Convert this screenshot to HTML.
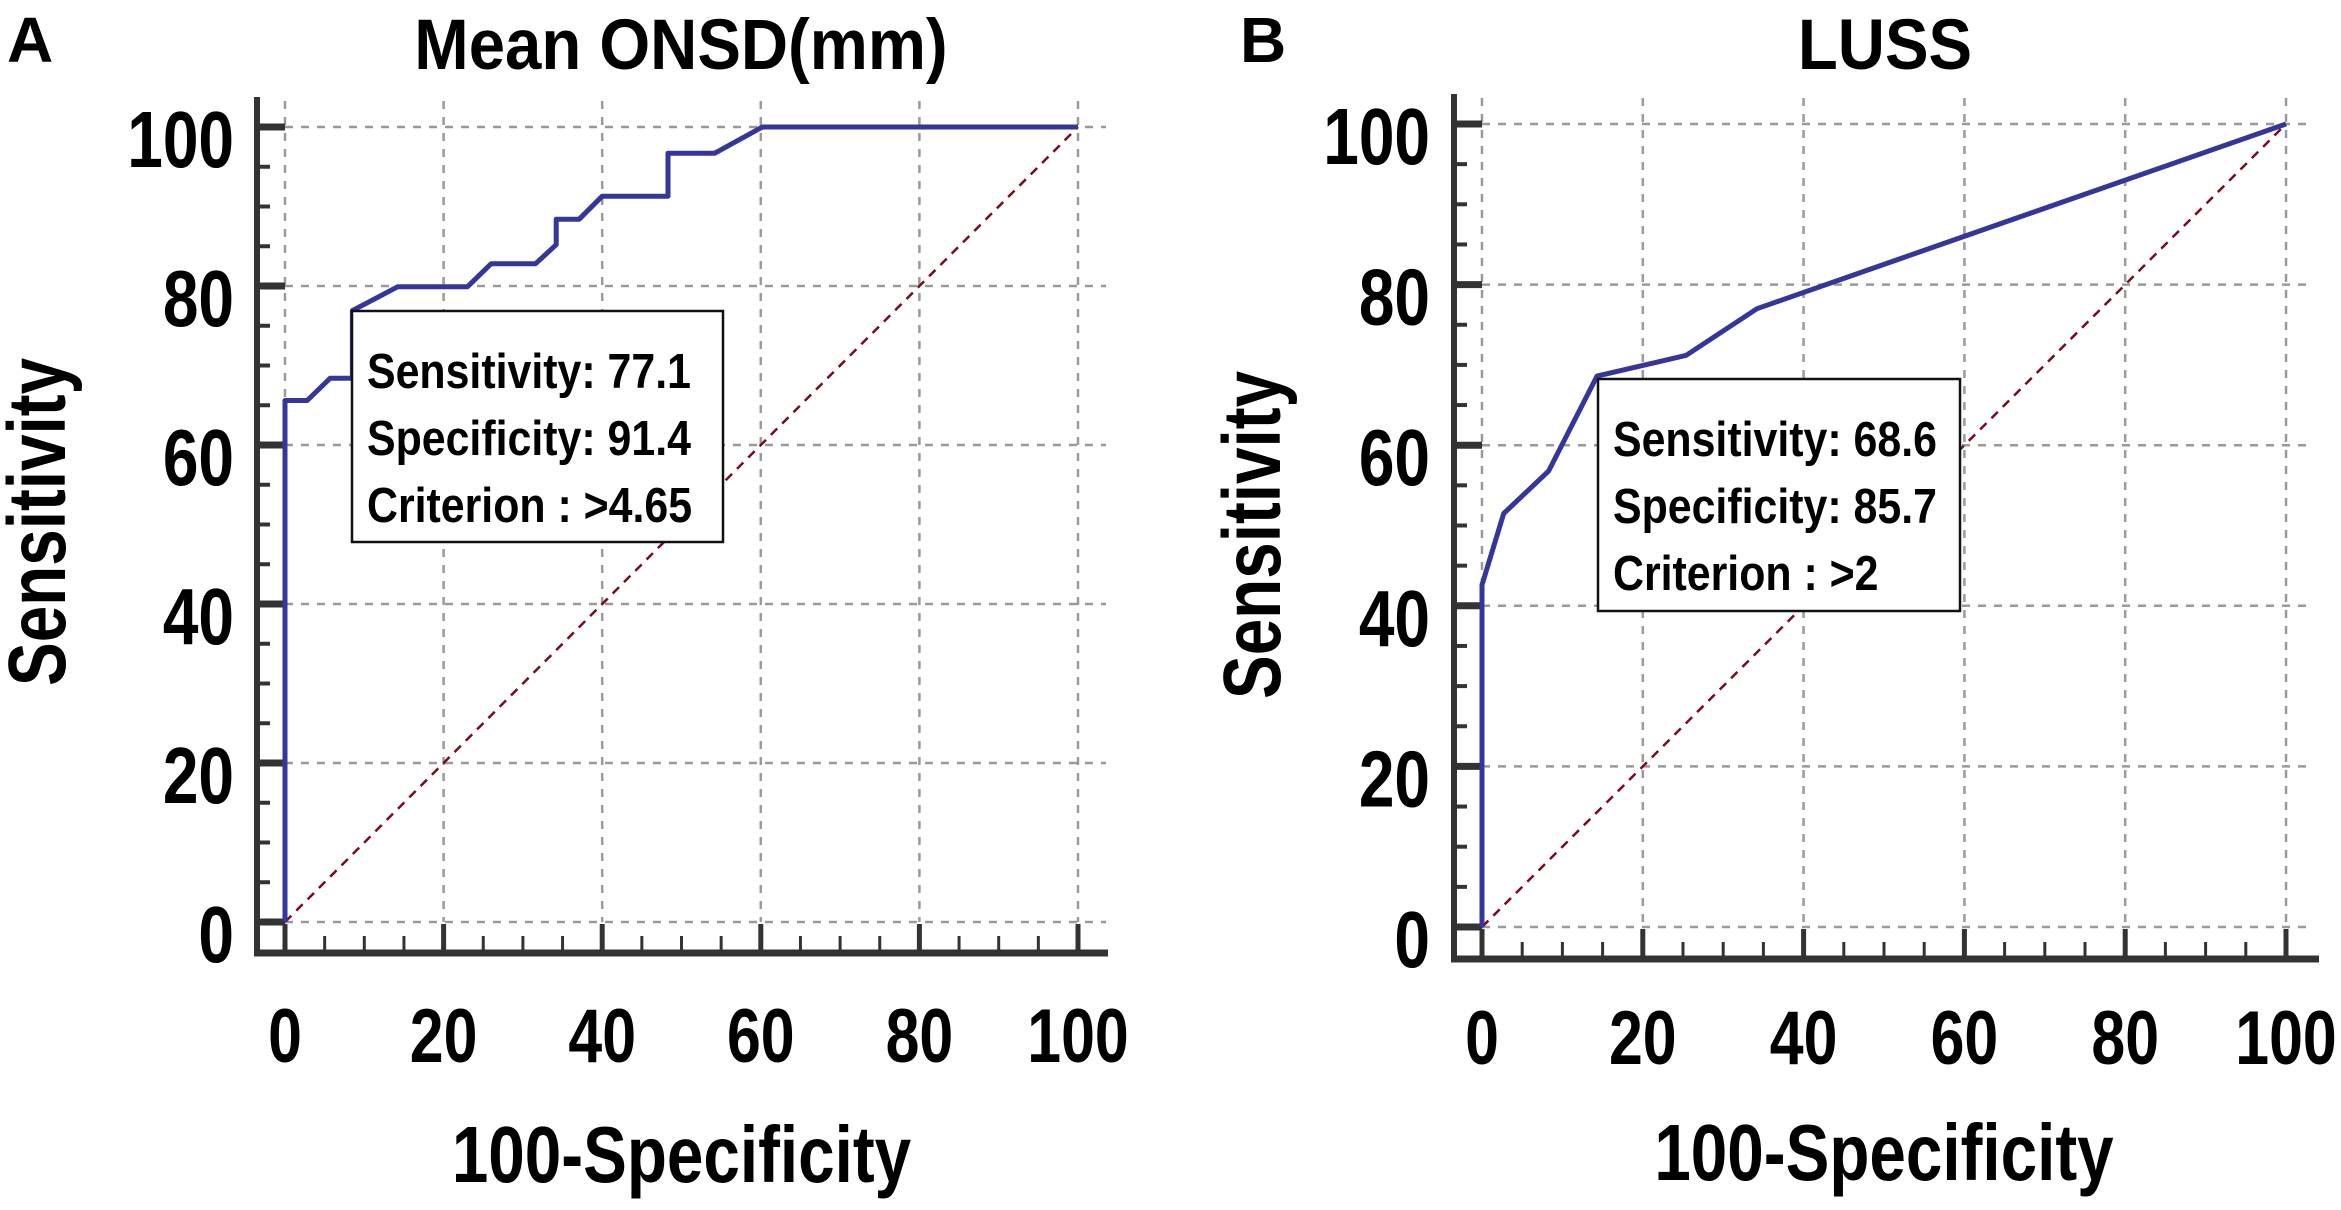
<!DOCTYPE html>
<html><head><meta charset="utf-8"><style>
html,body{margin:0;padding:0;background:#fff;}
svg{display:block;}
text{font-family:"Liberation Sans",sans-serif;font-weight:bold;fill:#000;}
</style></head><body>
<svg id="chart" width="2341" height="1210" viewBox="0 0 2341 1210" xmlns="http://www.w3.org/2000/svg"></svg>
<script>
// Panel A data: Mean ONSD ROC curve (x = 100-Specificity, y = Sensitivity)
const onsdX = [0, 0, 2.8, 5.7, 8.5, 8.5, 14.2, 23, 26, 31.6, 34.2, 34.2, 37.1, 40, 48.3, 48.3, 54.2, 60.2, 100];
const onsdY = [0, 65.6, 65.6, 68.4, 68.4, 76.9, 79.9, 79.9, 82.8, 82.8, 85.2, 88.4, 88.4, 91.3, 91.3, 96.7, 96.7, 100, 100];
// Panel B data: LUSS ROC curve
const lussX = [0, 0, 2.7, 8.3, 14.3, 25.4, 34.2, 100];
const lussY = [0, 42.6, 51.5, 56.8, 68.6, 71.2, 77, 100];
const tickValues = [0, 20, 40, 60, 80, 100];
const tickLabels = ["0", "20", "40", "60", "80", "100"];
const onsdBoxLines = ["Sensitivity: 77.1", "Specificity: 91.4", "Criterion : >4.65"];
const lussBoxLines = ["Sensitivity: 68.6", "Specificity: 85.7", "Criterion : >2"];

const NS = "http://www.w3.org/2000/svg";
const svg = document.getElementById("chart");
function mk(tag, attrs, parent) {
  const e = document.createElementNS(NS, tag);
  for (const k in attrs) e.setAttribute(k, attrs[k]);
  (parent || svg).appendChild(e);
  return e;
}
function txt(parent, x, y, str, size, anchor, sx, rot) {
  const t = mk("text", {transform: "translate(" + x + "," + y + ")" + (rot ? " rotate(" + rot + ")" : "") + " scale(" + sx + ",1)", "font-size": size, "text-anchor": anchor}, parent);
  t.textContent = str;
  return t;
}

function panel(cfg) {
  const g = mk("g", {});
  
  
  const sx = v => cfg.x0 + (cfg.x100 - cfg.x0) * v / 100;
  const sy = v => cfg.y0 + (cfg.y100 - cfg.y0) * v / 100;
  const grid = mk("g", {stroke: "#9a9a9a", "stroke-width": 2.5, "stroke-dasharray": "8 8", fill: "none"}, g);
  
  
  tickValues.forEach(v => {
    const vl = mk("line", {x1: sx(v), x2: sx(v), y1: cfg.axisTop + 4, y2: sy(0)}, grid);
    
    
    const hl = mk("line", {x1: sx(0), x2: sx(100) + 28, y1: sy(v), y2: sy(v)}, grid);
    
    
  });
  const diag = mk("line", {x1: sx(0), y1: sy(0), x2: sx(100), y2: sy(100), stroke: "#7a0a1e", "stroke-width": 2.5, "stroke-dasharray": "9 7"}, g);
  
  
  const ax = mk("g", {stroke: "#333", fill: "none"}, g);
  
  
  const ya = mk("line", {x1: cfg.axisX, x2: cfg.axisX, y1: cfg.axisTop, y2: cfg.axisY + 3, "stroke-width": 6}, ax);
  
  
  const xa = mk("line", {x1: cfg.axisX - 3, x2: cfg.axisRight, y1: cfg.axisY, y2: cfg.axisY, "stroke-width": 7}, ax);
  
  
  for (let v = 0; v <= 100; v += 5) {
    const major = v % 20 === 0;
    const yt = mk("line", {x1: cfg.axisX, x2: major ? sx(0) : cfg.axisX + 13, y1: sy(v), y2: sy(v), "stroke-width": major ? 7 : 4}, ax);
    
    
    const xt = mk("line", {x1: sx(v), x2: sx(v), y1: cfg.axisY, y2: major ? sy(0) + 2 : cfg.axisY - 17, "stroke-width": major ? 5 : 3}, ax);
    
    
  }
  tickValues.forEach((v, i) => {
    const yl = txt(g, cfg.yLabelRight, sy(v) + 40, tickLabels[i], 80, "end", 0.8);
    
    
    const xl = txt(g, sx(v), cfg.xLabelBase, tickLabels[i], 76, "middle", 0.8);
    
    
  });
  const pts = cfg.xs.map((x, i) => sx(x).toFixed(1) + "," + sy(cfg.ys[i]).toFixed(1)).join(" ");
  const curve = mk("polyline", {points: pts, fill: "none", stroke: "#35359a", "stroke-width": 5, "stroke-linejoin": "round"}, g);
  
  
  const bg = mk("g", {}, g);
  
  
  mk("rect", {x: cfg.box[0], y: cfg.box[1], width: cfg.box[2], height: cfg.box[3], fill: "#fff", stroke: "#111", "stroke-width": 2.5}, bg);
  cfg.lines.forEach((s, i) => {
    const t = txt(bg, cfg.box[0] + 15, cfg.box[1] + 77 + i * 67, s, 49, "start", 0.875);
    
    
  });
  const tt = txt(g, cfg.titleX, 69, cfg.title, 71, "middle", 0.92);
  
  
  const lt = txt(g, cfg.letterX, 62, cfg.letter, 64, "start", 1);
  
  
  const xt = txt(g, (sx(0) + sx(100)) / 2, cfg.xTitleBase, "100-Specificity", 80, "middle", 0.82);
  
  
  const yt = txt(g, cfg.yTitleX, cfg.yTitleY, "Sensitivity", 82, "middle", 0.8, -90);
  
  
}

panel({name: "panel-a-mean-onsd", xs: onsdX, ys: onsdY, lines: onsdBoxLines,
  x0: 285, x100: 1078, y0: 922, y100: 127, axisX: 257, axisY: 953, axisTop: 97, axisRight: 1108,
  yLabelRight: 234, xLabelBase: 1062, box: [352, 311, 371, 231],
  title: "Mean ONSD(mm)", titleX: 681, letter: "A", letterX: 7,
  xTitleBase: 1182, yTitleX: 65, yTitleY: 522});
panel({name: "panel-b-luss", xs: lussX, ys: lussY, lines: lussBoxLines,
  x0: 1482, x100: 2286, y0: 927, y100: 124, axisX: 1454, axisY: 959, axisTop: 94, axisRight: 2319,
  yLabelRight: 1430, xLabelBase: 1064, box: [1598, 379, 362, 232],
  title: "LUSS", titleX: 1885, letter: "B", letterX: 1240,
  xTitleBase: 1180, yTitleX: 1280, yTitleY: 535});
</script>
</body></html>
